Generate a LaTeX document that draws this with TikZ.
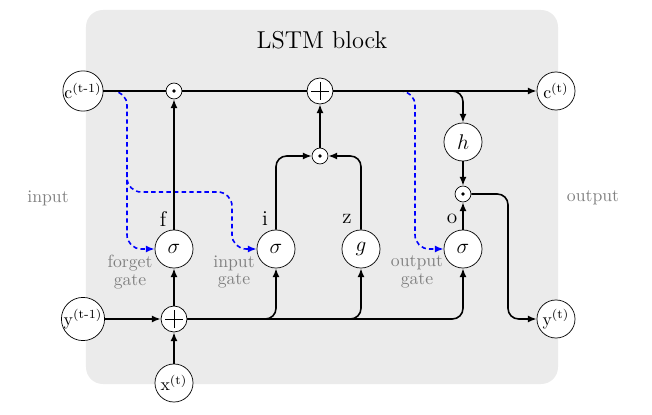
\documentclass[tikz,border=0pt]{standalone}
\usetikzlibrary{arrows.meta}

\tikzstyle{unit}  = [circle, draw, fill=white, minimum size=21.5pt, inner sep=0pt]
\tikzstyle{prod}  = [circle, draw, fill=white, minimum size=9pt, inner sep=0pt,
                     path picture={\fill[black] (path picture bounding box.center) circle (1.1pt);}]
\tikzstyle{sum}   = [circle, draw, fill=white, minimum size=14.7pt, inner sep=0pt,
                     path picture={\draw (path picture bounding box.center) ++(-5pt,0) -- ++(10pt,0)
                                         (path picture bounding box.center) ++(0,-5pt) -- ++(0,10pt);}]
\tikzstyle{conn}  = [line width=0.9pt, -{Latex[length=5pt,width=4pt]}, rounded corners=6pt]
\tikzstyle{peep}  = [conn, blue, dash pattern=on 2.5pt off 1.8pt, rounded corners=8pt]
\tikzstyle{note}  = [text=gray, align=center]

\begin{document}
\begin{tikzpicture}[x=0.565pt, y=-0.565pt]
     \useasboundingbox (0,0) rectangle (652,415);
     \fill[gray!16, rounded corners=9.5pt] (86,10) rectangle (558,384);
     \node (title) at (322,40) {\fontsize{13.8}{16}\selectfont LSTM block};

     % cell state and nodes
     \node[unit] (cprev) at ( 83, 91) {c\textsuperscript{(t-1)}};
     \node[prod] (fprod) at (174, 91) {};
     \node[sum]  (csum)  at (320, 91) {};
     \node[unit] (cnext) at (556, 91) {c\textsuperscript{(t)}};
     \node[prod] (iprod) at (320,156) {};
     \node[unit] (hact)  at (463,142) {\large $h$};
     \node[prod] (oprod) at (463,194) {};
     \node[unit] (fgate) at (174,249) {\large $\sigma$};
     \node[unit] (igate) at (276,249) {\large $\sigma$};
     \node[unit] (zin)   at (361,249) {\large $g$};
     \node[unit] (ogate) at (463,249) {\large $\sigma$};
     \node[sum]  (xsum)  at (174,319) {};
     \node[unit] (yprev) at ( 83,319) {y\textsuperscript{(t-1)}};
     \node[unit] (ynext) at (556,319) {y\textsuperscript{(t)}};
     \node[unit] (xin)   at (174,383) {x\textsuperscript{(t)}};

     % labels
     \node[note] (inlabel)  at ( 48,198) {input};
     \node[note] (outlabel) at (593,198) {output};
     \node[note] (flabel)   at (130,272) {forget\\[-2pt]gate};
     \node[note] (ilabel)   at (234,272) {input\\[-2pt]gate};
     \node[note] (olabel)   at (417,272) {output\\[-2pt]gate};
     \node (fname) at (163,219) {\large f};
     \node (iname) at (265,219) {\large i};
     \node (zname) at (347,219) {\large z};
     \node (oname) at (452,219) {\large o};

     % peepholes (under the cell line)
     \coordinate (fpeep)  at (127, 91);
     \coordinate (ipeepa) at (127,172);
     \coordinate (ipeepb) at (232,192);
     \coordinate (opeepa) at (392, 91);
     \coordinate (opeepb) at (415, 91);
     \draw[peep] (cprev.east) -- (fpeep) |- (fgate);
     \draw[peep] (ipeepa) |- (ipeepb) |- (igate);
     \draw[peep] (opeepa) -- (opeepb) |- (ogate);

     % connectors
     \coordinate (hsplit) at (446, 91);
     \coordinate (yturn)  at (508,194);
     \draw[line width=0.9pt] (cprev) -- (fprod);
     \draw[line width=0.9pt] (fprod) -- (csum);
     \draw[conn] (csum) -- (cnext);
     \draw[conn] (hsplit) -| (hact);
     \draw[conn] (hact) -- (oprod);
     \draw[conn] (ogate) -- (oprod);
     \draw[conn] (oprod) -- (yturn) |- (ynext);
     \draw[conn] (fgate) -- (fprod);
     \draw[conn] (igate) |- (iprod);
     \draw[conn] (zin) |- (iprod);
     \draw[conn] (iprod) -- (csum);
     \draw[conn] (xin) -- (xsum);
     \draw[conn] (yprev) -- (xsum);
     \draw[conn] (xsum) -- (fgate);
     \draw[conn] (xsum) -| (igate);
     \draw[conn] (xsum) -| (zin);
     \draw[conn] (xsum) -| (ogate);
\end{tikzpicture}
\end{document}
